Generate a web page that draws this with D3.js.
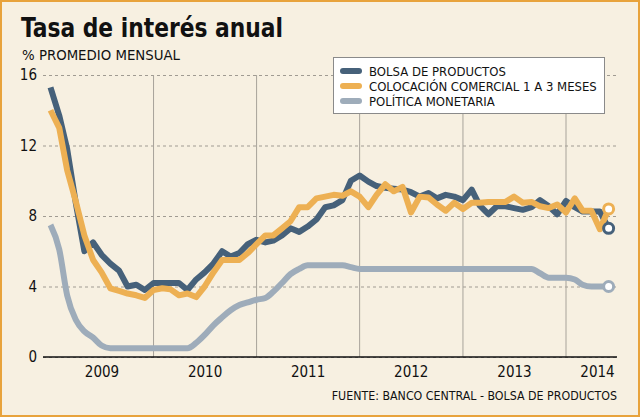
<!DOCTYPE html>
<html>
<head>
<meta charset="utf-8">
<script src="https://cdn.jsdelivr.net/npm/d3@7"></script>
<style>
    html, body { margin: 0; padding: 0; background: #f7f0e1; }
    svg text { font-family: "DejaVu Sans Condensed", "DejaVu Sans", sans-serif; fill: #111; }
</style>
</head>
<body>
<div id="chart"></div>
<script>
// monthly values, Jan 2009 .. Jun 2014
const bolsa = [
    15.3, 13.7, 11.8, 8.7, 6.0, 6.5, 5.8, 5.3, 4.9, 4.0, 4.1, 3.8,
    4.2, 4.2, 4.2, 4.2, 3.8, 4.4, 4.8, 5.3, 6.0, 5.7, 5.9, 6.4,
    6.65, 6.5, 6.6, 6.9, 7.3, 7.1, 7.4, 7.8, 8.5, 8.6, 8.9, 10.0,
    10.3, 9.95, 9.7, 9.6, 9.55, 9.5, 9.35, 9.1, 9.3, 9.0, 9.2, 9.1,
    8.9, 9.5, 8.6, 8.1, 8.55, 8.55, 8.45, 8.35, 8.5, 8.9, 8.55, 8.1,
    8.85, 8.5, 8.25, 8.25, 8.25, 7.3
];
const colocacion = [
    14.0, 13.0, 10.6, 8.8, 6.9, 5.5, 4.8, 3.9, 3.75, 3.6, 3.5, 3.35,
    3.8, 3.9, 3.85, 3.5, 3.6, 3.4, 4.0, 4.8, 5.5, 5.5, 5.5, 5.9,
    6.4, 6.9, 6.9, 7.3, 7.7, 8.5, 8.5, 9.0, 9.1, 9.2, 9.15, 9.4,
    9.1, 8.5, 9.2, 9.8, 9.4, 9.65, 8.2, 9.1, 9.05, 8.65, 8.3, 8.75,
    8.4, 8.75, 8.75, 8.8, 8.8, 8.8, 9.1, 8.75, 8.8, 8.55, 8.45, 8.65,
    8.2, 9.0, 8.3, 8.3, 7.25, 8.4
];
const politica = [
    7.5, 6.1, 3.5, 2.1, 1.45, 1.1, 0.65, 0.5, 0.5, 0.5, 0.5, 0.5,
    0.5, 0.5, 0.5, 0.5, 0.5, 0.8, 1.25, 1.8, 2.25, 2.65, 2.95, 3.1,
    3.25, 3.35, 3.7, 4.2, 4.7, 5.0, 5.2, 5.2, 5.2, 5.2, 5.2, 5.1,
    5.0, 5.0, 5.0, 5.0, 5.0, 5.0, 5.0, 5.0, 5.0, 5.0, 5.0, 5.0,
    5.0, 5.0, 5.0, 5.0, 5.0, 5.0, 5.0, 5.0, 5.0, 4.75, 4.5, 4.5,
    4.5, 4.4, 4.1, 4.0, 4.0, 4.0
];
const years = [2009, 2010, 2011, 2012, 2013, 2014];
const yTicks = [0, 4, 8, 12, 16];
const seriesNames = ["BOLSA DE PRODUCTOS", "COLOCACIÓN COMERCIAL 1 A 3 MESES", "POLÍTICA MONETARIA"];
const seriesColors = ["#46617a", "#edb053", "#9eacba"];

const width = 640, height = 417;
const plotLeft = 43, plotRight = 617, plotTop = 75, plotBottom = 357;

const months = bolsa.map((d, i) => new Date(2009, i, 1));

const x = d3.scaleTime()
    .domain([new Date(2009, 0, 1), new Date(2014, 0, 1)])
    .range([50.5, 566]);
const y = d3.scaleLinear().domain([0, 16]).range([plotBottom, plotTop]);

const svg = d3.select("#chart").append("svg")
    .attr("width", width)
    .attr("height", height);

svg.append("rect")
    .attr("x", 1).attr("y", 1)
    .attr("width", width - 2).attr("height", height - 2)
    .attr("fill", "#f7f0e1")
    .attr("stroke", "#e8a33c")
    .attr("stroke-width", 2);

svg.append("text")
    .attr("x", 21).attr("y", 37)
    .attr("font-size", 26).attr("font-weight", "bold")
    .attr("textLength", 262).attr("lengthAdjust", "spacingAndGlyphs")
    .text("Tasa de interés anual");

svg.append("text")
    .attr("x", 22).attr("y", 60)
    .attr("font-size", 14.8)
    .text("% PROMEDIO MENSUAL");

// horizontal dashed grid + y labels
const yAxis = svg.append("g")
    .attr("transform", `translate(${plotLeft},0)`)
    .call(d3.axisLeft(y).tickValues(yTicks).tickSize(-(plotRight - plotLeft)).tickPadding(6));
yAxis.select(".domain").remove();
yAxis.selectAll("line")
    .attr("stroke", "#a09b92")
    .attr("stroke-dasharray", "3,3");
yAxis.selectAll("text")
    .attr("font-size", 15)
    .style("font-family", "\"DejaVu Sans Condensed\", \"DejaVu Sans\", sans-serif")
    .attr("fill", "#111");

// vertical year separators
svg.append("g").selectAll("line")
    .data(years.slice(1))
    .join("line")
    .attr("x1", d => x(new Date(d, 0, 1)))
    .attr("x2", d => x(new Date(d, 0, 1)))
    .attr("y1", plotTop).attr("y2", plotBottom)
    .attr("stroke", "#a8a39a")
    .attr("stroke-width", 1);

svg.append("line")
    .attr("x1", plotLeft).attr("x2", plotRight)
    .attr("y1", plotBottom).attr("y2", plotBottom)
    .attr("stroke", "#111")
    .attr("stroke-width", 1.5);

svg.append("g").selectAll("text")
    .data(years)
    .join("text")
    .attr("x", d => (x(new Date(d, 0, 1)) + Math.min(x(new Date(d + 1, 0, 1)), plotRight + 12)) / 2)
    .attr("y", 377)
    .attr("text-anchor", "middle")
    .attr("font-size", 15)
    .text(d => d);

svg.append("text")
    .attr("x", plotRight).attr("y", 400)
    .attr("text-anchor", "end")
    .attr("font-size", 12.3)
    .text("FUENTE: BANCO CENTRAL - BOLSA DE PRODUCTOS");

// lines
const drawOrder = [
    {values: politica, color: seriesColors[2], curve: d3.curveMonotoneX},
    {values: bolsa, color: seriesColors[0], curve: d3.curveLinear},
    {values: colocacion, color: seriesColors[1], curve: d3.curveLinear}
];

drawOrder.forEach(s => {
    const line = d3.line()
        .x((d, i) => x(months[i]))
        .y(d => y(d))
        .curve(s.curve);

    svg.append("path")
        .datum(s.values)
        .attr("d", line)
        .attr("fill", "none")
        .attr("stroke", s.color)
        .attr("stroke-width", 6)
        .attr("stroke-linejoin", "round");
});

drawOrder.forEach(s => {
    const last = s.values.length - 1;
    svg.append("circle")
        .attr("cx", x(months[last]))
        .attr("cy", y(s.values[last]))
        .attr("r", 5)
        .attr("fill", "#fff")
        .attr("stroke", s.color)
        .attr("stroke-width", 3);
});

// legend
const legend = svg.append("g");
legend.append("rect")
    .attr("x", 333.5).attr("y", 57.5)
    .attr("width", 271).attr("height", 56)
    .attr("fill", "#fff")
    .attr("stroke", "#8a8a8a");

const legendRows = legend.selectAll("g")
    .data(seriesNames)
    .join("g")
    .attr("transform", (d, i) => `translate(0,${71 + i * 15})`);

legendRows.append("line")
    .attr("x1", 343).attr("x2", 359)
    .attr("stroke", (d, i) => seriesColors[i])
    .attr("stroke-width", 6)
    .attr("stroke-linecap", "round");

legendRows.append("text")
    .attr("x", 369).attr("y", 5)
    .attr("font-size", 13)
    .text(d => d);
</script>
</body>
</html>
